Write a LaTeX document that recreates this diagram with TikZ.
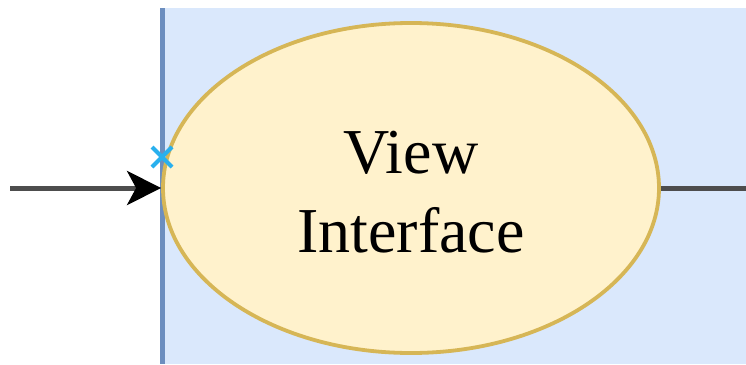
\documentclass[tikz,border=0pt]{standalone}
\usepackage{fontspec}
\setmainfont{Liberation Serif}
\usetikzlibrary{shapes.geometric,arrows.meta}
\definecolor{swimfill}{HTML}{DAE8FC}
\definecolor{swimline}{HTML}{6C8EBF}
\definecolor{ellfill}{HTML}{FFF2CC}
\definecolor{ellline}{HTML}{D6B656}
\definecolor{connline}{HTML}{4D4D4D}
\definecolor{markblue}{HTML}{29B0EE}
\tikzset{
  usecase/.style={ellipse, draw=ellline, fill=ellfill, line width=3.8pt,
    minimum width=496pt, minimum height=330pt, inner sep=0pt, align=center,
    text height=128pt, text depth=0pt,
    font=\fontsize{64}{79}\selectfont},
  conn/.style={draw=connline, line width=5pt},
  markline/.style={draw=markblue, line width=4pt}
}
\begin{document}
\begin{tikzpicture}[x=1pt,y=-1pt]
\useasboundingbox (0,0) rectangle (746,364);
% swimlane background
\fill[swimfill] (160,8) rectangle (746,364);
\draw[swimline, line width=4.7pt] (162.5,8) -- (162.5,364);
% use case
\node[usecase] (ell) at (411,188) {View\\Interface};
% connectors
\coordinate (src) at (10,188);
\coordinate (dst) at (746,188);
\draw[conn, -{Stealth[length=34pt, width=34pt, inset=9pt, color=black]}] (src) -- (ell.west);
\draw[conn] (ell.east) -- (dst);
% connection marker
\coordinate (mk) at (162,157);
\draw[markline] ([shift={(-10,-10)}]mk) -- ([shift={(10,10)}]mk);
\draw[markline] ([shift={(-10,10)}]mk) -- ([shift={(10,-10)}]mk);
\end{tikzpicture}
\end{document}
